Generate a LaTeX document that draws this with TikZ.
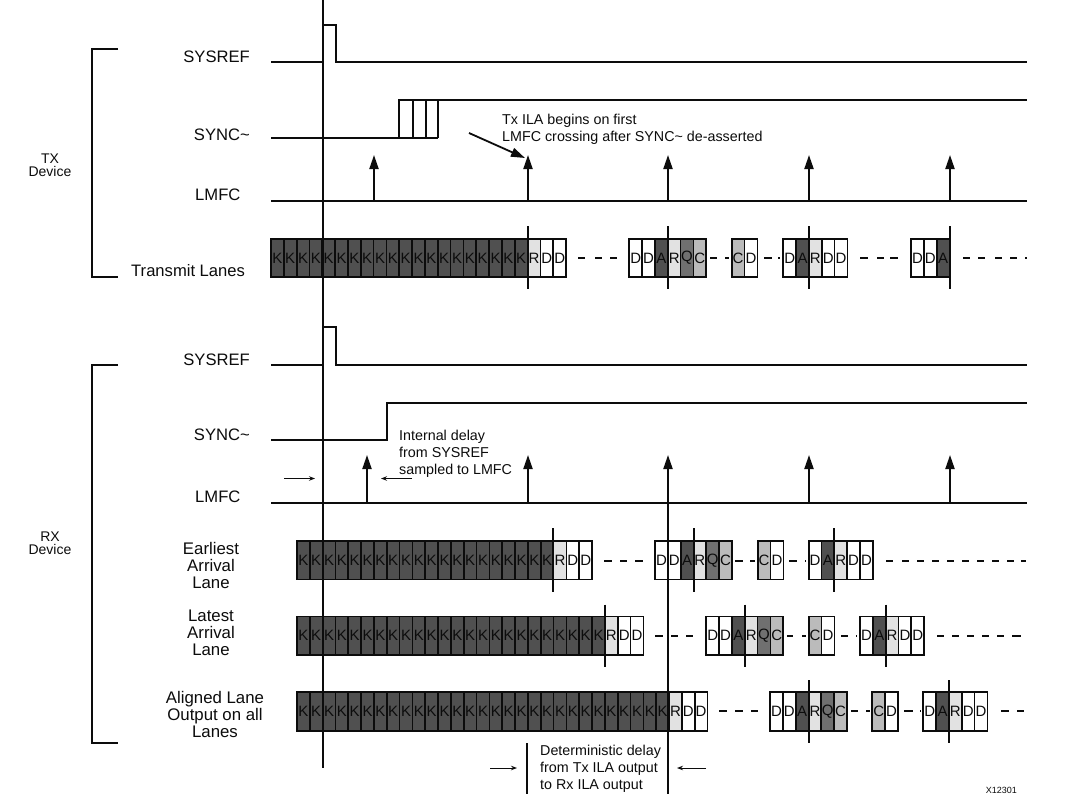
\documentclass[tikz,border=0pt]{standalone}
\usepackage{fontspec}
\setmainfont{Liberation Sans}
\usetikzlibrary{arrows.meta}
\definecolor{fillK}{HTML}{505050}
\definecolor{fillA}{HTML}{505050}
\definecolor{fillR}{HTML}{E2E2E2}
\definecolor{fillQ}{HTML}{707070}
\definecolor{fillC}{HTML}{BBBBBB}
\definecolor{fillD}{HTML}{FFFFFF}
\definecolor{ink}{HTML}{0C0C0C}
\tikzset{
  lanecell/.style={draw=ink,line width=1.7pt,anchor=north west,inner sep=0pt,outer sep=0pt,
    minimum width=12.83pt,minimum height=38.6pt,font=\fontsize{15}{15}\selectfont,text=ink},
  wire/.style={draw=ink,line width=2pt,line cap=butt},
  mark line/.style={draw=ink,line width=2pt},
  lane dash/.style={draw=ink,line width=1.8pt},
  tick arrow/.style={draw=ink,line width=2pt,-{Triangle[length=14pt,width=9pt]}},
  thin arrow/.style={draw=ink,line width=1pt,-{Stealth[length=6pt,width=4.5pt]}},
  siglabel/.style={font=\fontsize{16.6}{20}\selectfont,text=ink,inner sep=0pt,anchor=east},
  sidelabel/.style={font=\fontsize{14}{12.6}\selectfont,text=ink,inner sep=0pt,align=center},
  blocklabel/.style={font=\fontsize{16.8}{16.8}\selectfont,text=ink,inner sep=0pt,align=center},
  note/.style={font=\fontsize{14.3}{17}\selectfont,text=ink,inner sep=0pt,align=left,anchor=north west},
}
\newcommand{\lanecells}[4]{%
  \foreach \c [count=\i] in {#4} {
    \node[lanecell,fill=fill\c] (#1-\i) at ({#2+(\i-1)*12.83},#3) {\c};
  }}
\newcommand{\lanedashes}[2]{%
  \foreach \a/\b in {#2} { \draw[lane dash] (\a,#1) -- (\b,#1); }}
\begin{document}
\begin{tikzpicture}[x=1pt,y=-1pt]
\useasboundingbox (0,0) rectangle (1089,797);
\fill[white] (0,0) rectangle (1089,797);
% brackets
\draw[wire] (118,49) -- (92,49) -- (92,277) -- (118,277);
\draw[wire] (118,365) -- (92,365) -- (92,743) -- (118,743);
% side labels
\node[sidelabel] (txdev) at (50,165) {TX\\Device};
\node[sidelabel] (rxdev) at (50,543) {RX\\Device};
% TX labels
\node[siglabel] (l1) at (250,57) {SYSREF};
\node[siglabel] (l2) at (250,135) {SYNC\textasciitilde};
\node[siglabel,anchor=west] (l3) at (195,195) {LMFC};
\node[siglabel,anchor=west] (l4) at (131,271) {Transmit Lanes};
% RX labels
\node[siglabel] (l5) at (250,360) {SYSREF};
\node[siglabel] (l6) at (250,435) {SYNC\textasciitilde};
\node[siglabel,anchor=west] (l7) at (195,497) {LMFC};
\node[blocklabel] (l8) at (211,565.5) {Earliest\\Arrival\\Lane};
\node[blocklabel] (l9) at (211,632.5) {Latest\\Arrival\\Lane};
\node[blocklabel] (l10) at (215,714.5) {Aligned Lane\\Output on all\\Lanes};
% TX waveforms
\draw[wire] (271,62) -- (323,62) -- (323,25) -- (336,25) -- (336,62) -- (1027,62);
\draw[wire] (271,138) -- (438,138);
\draw[wire] (399,138) -- (399,100) -- (1027,100);
\draw[wire] (413,100) -- (413,138);
\draw[wire] (426,100) -- (426,138);
\draw[wire] (438,100) -- (438,138);
\draw[wire] (271,201) -- (1027,201);
\foreach \x in {374,528,668,809,950} { \draw[tick arrow] (\x,201) -- (\x,155); }
% RX waveforms
\draw[wire] (271,365) -- (323,365) -- (323,327) -- (336,327) -- (336,365) -- (1027,365);
\draw[wire] (271,440) -- (387,440) -- (387,403) -- (1027,403);
\draw[wire] (271,503) -- (1027,503);
\foreach \x in {367,528,668,809,950} { \draw[tick arrow] (\x,503) -- (\x,455); }
% Transmit lanes
\lanecells{tA}{271}{238.7}{K,K,K,K,K,K,K,K,K,K,K,K,K,K,K,K,K,K,K,K,R,D,D}
\lanecells{tB}{629.3}{238.7}{D,D,A,R,Q,C}
\lanecells{tC}{731.7}{238.7}{C,D}
\lanecells{tD}{783.3}{238.7}{D,A,R,D,D}
\lanecells{tE}{911}{238.7}{D,D,A}
\lanedashes{258}{578/585,595/602,610/617,710/717,725/729,764/772,778/780,860/868,877/884,890/898,963/970,978/985,995/1002,1010/1017,1025/1027}
\foreach \x in {528,668,809,950} { \draw[mark line] (\x,226) -- (\x,289); }
% Earliest lane
\lanecells{eA}{297}{541}{K,K,K,K,K,K,K,K,K,K,K,K,K,K,K,K,K,K,K,K,R,D,D}
\lanecells{eB}{655}{541}{D,D,A,R,Q,C}
\lanecells{eC}{757.7}{541}{C,D}
\lanecells{eD}{808.7}{541}{D,A,R,D,D}
\lanedashes{561}{604/612,620/627,635/643,735/743,750/755,789/797,805/806,886/893,902/909,917/924,932/939,947/954,962/969,977/984,992/999,1007/1014,1021/1026}
\foreach \x in {553,694,834} { \draw[mark line] (\x,528) -- (\x,592); }
% Latest lane
\lanecells{lA}{297}{616.5}{K,K,K,K,K,K,K,K,K,K,K,K,K,K,K,K,K,K,K,K,K,K,K,K,R,D,D}
\lanecells{lB}{706.3}{616.5}{D,D,A,R,Q,C}
\lanecells{lC}{808.7}{616.5}{C,D}
\lanecells{lD}{860}{616.5}{D,A,R,D,D}
\lanedashes{636}{655/663,671/678,686/693,787/793,802/806,841/848,856/857,937/944,952/959,967/974,982/989,997/1004,1012/1021}
\foreach \x in {605,745,886} { \draw[mark line] (\x,604.5) -- (\x,667); }
% Aligned lane
\lanecells{aA}{297}{692.3}{K,K,K,K,K,K,K,K,K,K,K,K,K,K,K,K,K,K,K,K,K,K,K,K,K,K,K,K,K,R,D,D}
\lanecells{aB}{770}{692.3}{D,D,A,R,Q,C}
\lanecells{aC}{872.3}{692.3}{C,D}
\lanecells{aD}{923.3}{692.3}{D,A,R,D,D}
\lanedashes{711}{719/727,735/743,751/758,851/858,866/870,904/913,920/921,1001/1009,1017/1024}
\foreach \x in {809,949} { \draw[mark line] (\x,680) -- (\x,743); }
% long verticals
\draw[mark line] (323,0) -- (323,768);
\draw[mark line] (668,503) -- (668,794);
\draw[mark line] (527,743) -- (527,794);
% notes
\node[note] (n1) at (502,114.3) {Tx ILA begins on first\\LMFC crossing after SYNC\textasciitilde{} de-asserted};
\coordinate (n1a) at (469,133);
\coordinate (n1b) at (525,158);
\draw[draw=ink,line width=1.8pt,-{Triangle[length=14pt,width=9pt]}] (n1a) -- (n1b);
\node[note] (n2) at (399,430) {Internal delay\\from SYSREF\\sampled to LMFC};
\draw[thin arrow] (284,478.5) -- (315,478.5);
\draw[thin arrow] (412,478.5) -- (381,478.5);
\node[note] (n3) at (540,745.2) {Deterministic delay\\from Tx ILA output\\to Rx ILA output};
\draw[thin arrow] (490,768) -- (517,768);
\draw[thin arrow] (706,768) -- (677,768);
\node[font=\fontsize{9}{10}\selectfont,text=ink,inner sep=0pt,anchor=east] (code) at (1017,790) {X12301};
\end{tikzpicture}
\end{document}
